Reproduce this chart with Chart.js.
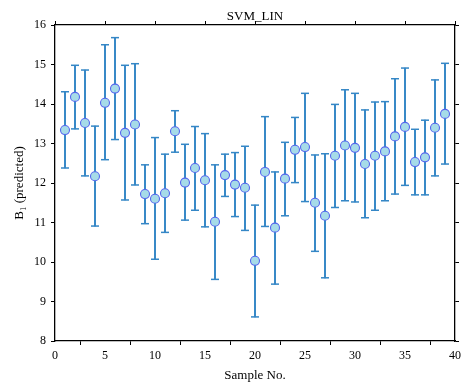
<!DOCTYPE html>
<html>
<head>
<meta charset="utf-8">
<script src="https://cdn.jsdelivr.net/npm/chart.js@4/dist/chart.umd.min.js"></script>
<style>
html,body{margin:0;padding:0;background:#fff;}
canvas{display:block;}
</style>
</head>
<body>
<canvas id="c" width="461" height="385"></canvas>
<script>
const sampleNo = [1,2,3,4,5,6,7,8,9,10,11,12,13,14,15,16,17,18,19,20,21,22,23,24,25,26,27,28,29,30,31,32,33,34,35,36,37,38,39];
const predicted = [13.34,14.18,13.52,12.17,14.03,14.39,13.27,13.48,11.72,11.60,11.74,13.31,12.01,12.38,12.07,11.02,12.20,11.96,11.88,10.03,12.28,10.87,12.11,12.84,12.91,11.50,11.17,12.69,12.95,12.89,12.48,12.69,12.80,13.18,13.42,12.53,12.65,13.40,13.75];
const upper = [14.31,14.98,14.86,13.44,15.50,15.68,14.98,15.02,12.46,13.15,12.73,13.83,12.98,13.43,13.25,12.46,12.73,12.77,12.93,11.44,13.68,12.28,13.03,13.66,14.27,12.71,12.74,13.99,14.36,14.27,13.85,14.05,14.06,14.64,14.91,13.36,13.59,14.61,15.03];
const lower = [12.38,13.37,12.18,10.91,12.59,13.10,11.57,11.95,10.97,10.07,10.75,12.78,11.06,11.31,10.89,9.56,11.66,11.15,10.80,8.61,10.90,9.44,11.17,12.01,11.53,10.27,9.60,11.38,11.55,11.52,11.12,11.31,11.55,11.72,11.94,11.70,11.70,12.18,12.48];
const xTicks = [0,5,10,15,20,25,30,35,40];
const yTicks = [8,9,10,11,12,13,14,15,16];

const barColor = '#3587c6';
const font = {family: '"Liberation Serif", "Times New Roman", serif', size: 12};
const titleFont = {family: '"Liberation Serif", "Times New Roman", serif', size: 13};

const pts = sampleNo.map((x,i)=>({x:x, y:predicted[i]}));
const bars = sampleNo.map((x,i)=>({x:x, y:[lower[i], upper[i]]}));
const caps = [];
sampleNo.forEach((x,i)=>{ caps.push({x:x, y:lower[i]}); caps.push({x:x, y:upper[i]}); });

const tickOpts = (vals) => ({
  min: vals[0], max: vals[vals.length-1],
  afterBuildTicks: (s)=>{ s.ticks = vals.map(v=>({value:v})); }
});
const noPad = (s)=>{ s.paddingLeft = 0; s.paddingRight = 0; s.paddingTop = 0; s.paddingBottom = 0; };

new Chart(document.getElementById('c'), {
  data: {
    datasets: [
      {type:'bar', data: bars, backgroundColor: barColor, borderWidth: 0, barThickness: 1.3, order: 3, xAxisID:'x', yAxisID:'y'},
      {type:'scatter', data: caps, pointStyle:'line', pointRadius: 4, borderColor: barColor, borderWidth: 1.5, order: 2, xAxisID:'x', yAxisID:'y'},
      {type:'scatter', data: pts, pointStyle:'circle', pointRadius: 4.5, backgroundColor:'#a6dbe8', borderColor:'#5566ee', borderWidth: 1.1, order: 1, xAxisID:'x', yAxisID:'y'}
    ]
  },
  options: {
    responsive: false,
    animation: false,
    events: [],
    layout: {padding: {left: 0, right: 0, top: 0, bottom: 0}},
    plugins: {legend: {display:false}, tooltip: {enabled:false}, title: {display:false}},
    scales: {
      x: {
        type:'linear', position:'bottom', ...tickOpts(xTicks),
        offset: false,
        grid: {display:true, drawOnChartArea:false, drawTicks:true, tickLength:4, color:'#000', tickWidth:1},
        border: {display:true, color:'#000', width:1.3},
        ticks: {color:'#000', font: font, padding: 4, maxRotation:0, autoSkip:false},
        title: {display:true, text:'Sample No.', color:'#000', font: titleFont, padding:{top:2, bottom:2}},
        afterFit: (s)=>{ s.height = 44; noPad(s); }
      },
      x2: {
        type:'linear', position:'top', ...tickOpts(xTicks),
        grid: {display:true, drawOnChartArea:false, drawTicks:true, tickLength:4, color:'#000'},
        border: {display:true, color:'#000', width:1.3},
        ticks: {display:false},
        title: {display:true, text:'SVM_LIN', color:'#000', font: titleFont, padding:{top:9, bottom:0}},
        afterFit: (s)=>{ s.height = 25; noPad(s); }
      },
      y: {
        type:'linear', position:'left', ...tickOpts(yTicks),
        grid: {display:true, drawOnChartArea:false, drawTicks:true, tickLength:4, color:'#000'},
        border: {display:true, color:'#000', width:1.3},
        ticks: {color:'#000', font: font, padding: 5},
        title: {display:true, text:'B\u2081 (predicted)', color:'#000', font: titleFont, padding:{top:12, bottom:0}},
        afterFit: (s)=>{ s.width = 55; noPad(s); }
      },
      y2: {
        type:'linear', position:'right', ...tickOpts(yTicks),
        grid: {display:true, drawOnChartArea:false, drawTicks:true, tickLength:4, color:'#000'},
        border: {display:true, color:'#000', width:1.3},
        ticks: {display:false},
        afterFit: (s)=>{ s.width = 6; noPad(s); }
      }
    }
  }
});
</script>
</body>
</html>
